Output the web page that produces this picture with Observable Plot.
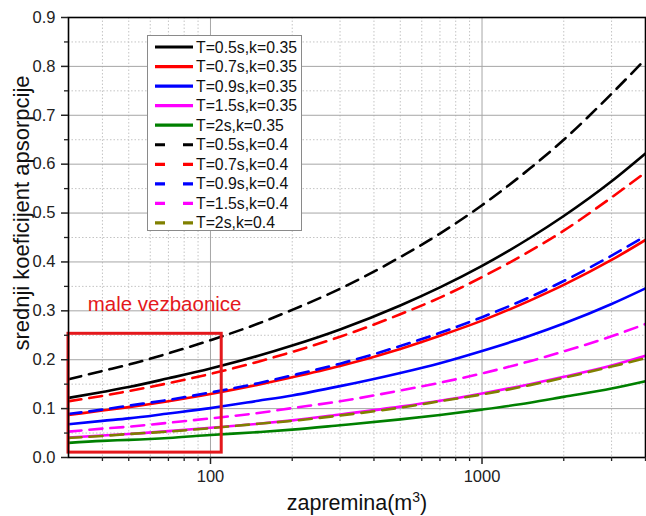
<!DOCTYPE html>
<html><head><meta charset="utf-8">
<script src="https://cdn.jsdelivr.net/npm/d3@7"></script>
<script src="https://cdn.jsdelivr.net/npm/@observablehq/plot@0.6"></script>
<style>body{margin:0;background:#fff} svg{display:block}</style>
</head><body><div id="chart"></div><script>
// Volume (m^3) sample positions
const V = [30,40,50,70,100,150,200,300,500,700,1000,1500,2000,3000,4000];

// mean absorption coefficient, k = 0.35
const a05_035 = [0.122,0.134,0.144,0.162,0.182,0.208,0.229,0.262,0.311,0.348,0.392,0.449,0.494,0.565,0.622];
const a07_035 = [0.087,0.096,0.103,0.115,0.130,0.149,0.164,0.187,0.222,0.249,0.280,0.321,0.353,0.404,0.445];
const a09_035 = [0.068,0.075,0.080,0.090,0.101,0.116,0.127,0.146,0.173,0.193,0.218,0.249,0.274,0.314,0.346];
const a15_035 = [0.041,0.045,0.048,0.054,0.061,0.069,0.076,0.088,0.104,0.116,0.131,0.150,0.165,0.188,0.208];
const a20_035 = [0.030,0.034,0.036,0.040,0.046,0.052,0.057,0.066,0.078,0.087,0.098,0.112,0.124,0.141,0.156];
// mean absorption coefficient, k = 0.4
const a05_04 = [0.160,0.177,0.190,0.213,0.240,0.274,0.302,0.345,0.410,0.458,0.516,0.591,0.650,0.744,0.815];
const a07_04 = [0.115,0.126,0.136,0.152,0.171,0.196,0.216,0.247,0.293,0.327,0.369,0.422,0.464,0.532,0.583];
const a09_04 = [0.089,0.098,0.106,0.118,0.133,0.152,0.168,0.192,0.228,0.255,0.287,0.328,0.361,0.413,0.453];
const a15_04 = [0.053,0.059,0.063,0.071,0.080,0.091,0.101,0.115,0.137,0.153,0.172,0.197,0.217,0.248,0.273];
const a20_04 = [0.040,0.044,0.048,0.053,0.060,0.069,0.075,0.086,0.102,0.115,0.129,0.148,0.163,0.186,0.203];

const seriesNames = ["T=0.5s,k=0.35","T=0.7s,k=0.35","T=0.9s,k=0.35","T=1.5s,k=0.35","T=2s,k=0.35",
                     "T=0.5s,k=0.4","T=0.7s,k=0.4","T=0.9s,k=0.4","T=1.5s,k=0.4","T=2s,k=0.4"];
const seriesValues = [a05_035,a07_035,a09_035,a15_035,a20_035,a05_04,a07_04,a09_04,a15_04,a20_04];
const seriesColors = ["#000000","#ff0000","#0000ff","#ff00ff","#008000",
                      "#000000","#ff0000","#0000ff","#ff00ff","#808000"];
const seriesDashed = [false,false,false,false,false,true,true,true,true,true];

// axis ticks
const xMajor = [100,1000];
const xMinor = [40,50,60,70,80,90,200,300,400,500,600,700,800,900,2000,3000,4000];
const yMajor = [0,0.1,0.2,0.3,0.4,0.5,0.6,0.7,0.8,0.9];
const yMinor = [0.05,0.15,0.25,0.35,0.45,0.55,0.65,0.75,0.85];

// annotation
const boxX = [30,110], boxY = [0.01,0.253];
const noteText = ["male vezbaonice"], noteX = [35.3], noteY = [0.300];

const font = "'Liberation Sans', Arial, sans-serif";
const noteRed = "#e4181c";

const lineMarks = seriesValues.map((vals, i) =>
  Plot.line(V.map((v, j) => ({V: v, a: vals[j]})), {
    x: "V", y: "a", stroke: seriesColors[i], strokeWidth: 2.6,
    strokeDasharray: seriesDashed[i] ? "13,8" : null, curve: "monotone-x"
  })
);

const svg = Plot.plot({
  width: 646, height: 516,
  marginLeft: 68, marginRight: 1, marginTop: 17, marginBottom: 59,
  style: {fontFamily: font, fontSize: "16px", color: "#222", background: "#fff"},
  x: {type: "log", domain: [30, 4000]},
  y: {domain: [0, 0.9]},
  marks: [
    Plot.gridX(xMinor, {stroke: "#c4c4c4", strokeOpacity: 1, strokeDasharray: "1.5,2"}),
    Plot.gridY(yMinor, {stroke: "#c4c4c4", strokeOpacity: 1, strokeDasharray: "1.5,2"}),
    Plot.gridX(xMajor, {stroke: "#a6a6a6", strokeOpacity: 1}),
    Plot.gridY(yMajor.slice(1, -1), {stroke: "#a6a6a6", strokeOpacity: 1}),
    ...lineMarks,
    Plot.rect([{x1: boxX[0], x2: boxX[1], y1: boxY[0], y2: boxY[1]}],
      {x1: "x1", x2: "x2", y1: "y1", y2: "y2", fill: "none", stroke: noteRed, strokeWidth: 3}),
    Plot.text(noteText.map((t, i) => ({t, x: noteX[i], y: noteY[i]})),
      {x: "x", y: "y", text: "t", textAnchor: "start", lineAnchor: "bottom", fontSize: 20.5, fill: noteRed}),
    Plot.frame({stroke: "#000", strokeWidth: 1.6}),
    Plot.axisX(xMajor, {tickSize: 7, tickPadding: 6, tickFormat: d => String(d), label: null, fontSize: 16.5, strokeWidth: 1.5}),
    Plot.axisX(xMinor, {tickSize: 4, tickFormat: () => "", label: null, strokeWidth: 1.3}),
    Plot.axisY(yMajor, {tickSize: 7, tickPadding: 6, tickFormat: d3.format(".1f"), label: null, fontSize: 16.5, strokeWidth: 1.5}),
    Plot.axisY(yMinor, {tickSize: 4, tickFormat: () => "", label: null, strokeWidth: 1.3})
  ]
});
document.getElementById("chart").appendChild(svg);

const s = d3.select(svg);
// axis titles
const xt = s.append("text").attr("x", 357).attr("y", 510).attr("text-anchor", "middle")
  .attr("font-family", font).attr("font-size", 21.5).attr("fill", "#111");
xt.append("tspan").text("zapremina(m");
xt.append("tspan").attr("dy", -8).attr("font-size", 14).text("3");
xt.append("tspan").attr("dy", 8).text(")");
s.append("text").attr("transform", "translate(29,213) rotate(-90)").attr("text-anchor", "middle")
  .attr("font-family", font).attr("font-size", 22).attr("fill", "#111")
  .text("srednji koeficijent apsorpcije");

// legend
const lg = s.append("g");
lg.append("rect").attr("x", 147.5).attr("y", 35.5).attr("width", 154).attr("height", 195)
  .attr("fill", "#fff").attr("stroke", "#8a8a8a").attr("stroke-width", 1);
seriesNames.forEach((name, i) => {
  const y = 47 + i * 19.55;
  lg.append("line").attr("x1", 155).attr("x2", 193).attr("y1", y).attr("y2", y)
    .attr("stroke", seriesColors[i]).attr("stroke-width", 3.2)
    .attr("stroke-dasharray", seriesDashed[i] ? "10,18" : null);
  lg.append("text").attr("x", 196).attr("y", y).attr("dy", "0.35em")
    .attr("text-anchor", "start")
    .attr("font-family", font).attr("font-size", 15.8).attr("fill", "#111").text(name);
});
</script></body></html>
